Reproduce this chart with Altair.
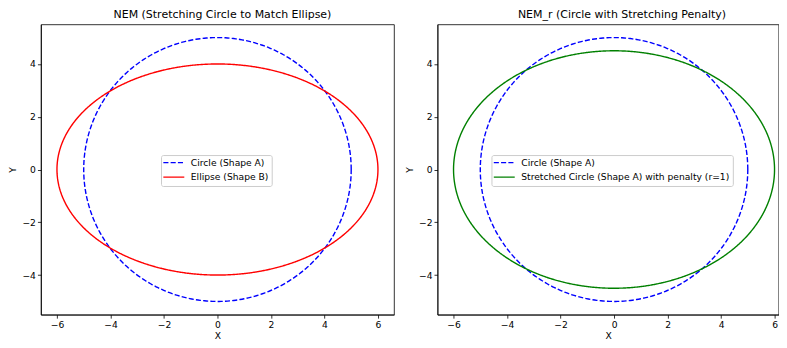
import numpy as np
import pandas as pd
import altair as alt

# Shape parameters
CIRCLE_R = 5.0            # Shape A
ELLIPSE_AB = (6.0, 4.0)   # Shape B
STRETCH_AB = (6.0, 4.5)   # stretched circle with penalty (r=1)

LEFT_LABELS = ["Circle (Shape A)", "Ellipse (Shape B)"]
RIGHT_LABELS = ["Circle (Shape A)", "Stretched Circle (Shape A) with penalty (r=1)"]
LEFT_COLORS = ["blue", "red"]
RIGHT_COLORS = ["blue", "green"]
X_TICKS = [-6, -4, -2, 0, 2, 4, 6]
Y_TICKS = [-4, -2, 0, 2, 4]

theta = np.linspace(0, 2 * np.pi, 400)


def ring(a, b, label):
    return pd.DataFrame({"x": a * np.cos(theta), "y": b * np.sin(theta),
                         "i": np.arange(len(theta)), "series": label})


left_df = pd.concat([ring(CIRCLE_R, CIRCLE_R, LEFT_LABELS[0]),
                     ring(*ELLIPSE_AB, LEFT_LABELS[1])])
right_df = pd.concat([ring(CIRCLE_R, CIRCLE_R, RIGHT_LABELS[0]),
                      ring(*STRETCH_AB, RIGHT_LABELS[1])])

FONT = "DejaVu Sans"
DASHES = [[5.1, 2.2], [1, 0]]
PLOT_H = 291


def panel(df, labels, colors, title, tdx, xdom, width, lx):
    leg = alt.Legend(title=None, orient="none", legendX=lx, legendY=131)
    return alt.Chart(df).mark_line(strokeWidth=1.4, clip=True).encode(
        x=alt.X("x:Q", scale=alt.Scale(domain=xdom, nice=False, zero=False),
                axis=alt.Axis(values=X_TICKS, title="X", format="d",
                              minExtent=14, maxExtent=14, titlePadding=3)),
        y=alt.Y("y:Q", scale=alt.Scale(domain=[-5.5, 5.5], nice=False, zero=False),
                axis=alt.Axis(values=Y_TICKS, title="Y", format="d",
                              minExtent=21, maxExtent=21, titlePadding=2)),
        color=alt.Color("series:N", scale=alt.Scale(domain=labels, range=colors), legend=leg),
        strokeDash=alt.StrokeDash("series:N", scale=alt.Scale(domain=labels, range=DASHES), legend=leg),
        detail="series:N",
        order="i:Q",
    ).properties(width=width, height=PLOT_H, title=alt.TitleParams(title, dx=tdx))


left = panel(left_df, LEFT_LABELS, LEFT_COLORS,
             "NEM (Stretching Circle to Match Ellipse)", 5, [-6.6, 6.6], 354, 120.4)
right = panel(right_df, RIGHT_LABELS, RIGHT_COLORS,
              "NEM_r (Circle with Stretching Penalty)", 14, [-6.6, 6.152], 342, 54.1)

chart = alt.hconcat(left, right, spacing=9.6).resolve_scale(
    x="independent", color="independent", strokeDash="independent"
).resolve_legend(color="independent", strokeDash="independent").configure(
    font=FONT, padding={"left": 0, "top": 0, "right": 0, "bottom": 0}
).configure_view(stroke="black", strokeWidth=0.8).configure_axis(
    grid=False, domainColor="black", domainWidth=0.8, tickColor="black",
    tickWidth=0.8, tickSize=3.5, labelFont=FONT, labelFontSize=9.2,
    labelColor="black", labelPadding=2, titleFont=FONT, titleFontSize=9.2,
    titleFontWeight="normal", titleColor="black",
).configure_title(
    font=FONT, fontSize=11, fontWeight="normal", color="black", offset=0
).configure_legend(
    labelFont=FONT, labelFontSize=9.2, labelColor="black", labelLimit=0,
    strokeColor="#cccccc", fillColor="rgba(255,255,255,0.8)", padding=3,
    cornerRadius=2, symbolType="M-1.5,0H4.5", symbolSize=49,
    symbolStrokeWidth=1.4, labelOffset=17.7, rowPadding=4.5,
)

chart.save("out.html", embed_options={"renderer": "svg", "actions": False})
